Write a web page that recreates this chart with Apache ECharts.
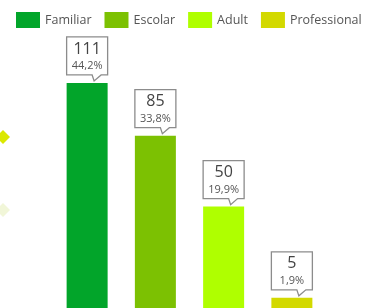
<!DOCTYPE html>
<html>
<head>
<meta charset="utf-8">
<script src="https://cdn.jsdelivr.net/npm/echarts@6/dist/echarts.min.js"></script>
<style>
  html, body { margin: 0; padding: 0; background: #fff; }
  #main { width: 367px; height: 308px; }
</style>
</head>
<body>
<div id="main"></div>
<script>
// categories and values
var categories = ['Familiar', 'Escolar', 'Adult', 'Professional'];
var counts = [111, 85, 50, 5];
var pctLabels = ['44,2%', '33,8%', '19,9%', '1,9%'];
var colors = ['#02a52a', '#7cc102', '#afff00', '#d3d900'];

var myChart = echarts.init(document.getElementById('main'));

// one series per category so the legend shows each colour
var series = [];
for (var i = 0; i < categories.length; i++) {
	var d = [];
	for (var j = 0; j < categories.length; j++) {
		d.push(j == i ? counts[i] : '-');
	}
	series.push({
		name: categories[i],
		type: 'bar',
		stack: 'total',
		barWidth: 41,
		itemStyle: { color: colors[i] },
		data: d
	});
}

// callout boxes above the bars
var calloutData = [];
for (var i = 0; i < counts.length; i++) {
	calloutData.push([i, counts[i]]);
}
series.push({
	type: 'custom',
	name: 'callout',
	clip: false,
	z: 10,
	data: calloutData,
	renderItem: function (params, api) {
		var p = api.coord([api.value(0), api.value(1)]);
		var cx = p[0], top = p[1];
		var bw = 41, bh = 38;
		var bx = cx - bw / 2;
		var bb = top - 8;
		var bt = bb - bh;
		return {
			type: 'group',
			children: [
				{
					type: 'polygon',
					shape: {
						points: [[bx, bt], [bx + bw, bt], [bx + bw, bb], [cx + 14, bb],
							[cx + 7, bb + 6], [cx + 5, bb], [bx, bb]]
					},
					style: { fill: '#fff', stroke: '#8c8c8c', lineWidth: 1.3 }
				},
				{
					type: 'text',
					style: {
						x: cx, y: bt + 12,
						text: String(api.value(1)),
						align: 'center', verticalAlign: 'middle',
						font: '16px "Open Sans"', fill: '#444'
					}
				},
				{
					type: 'text',
					style: {
						x: cx, y: bt + 29,
						text: pctLabels[params.dataIndex],
						align: 'center', verticalAlign: 'middle',
						font: '11px "Open Sans"', fill: '#555'
					}
				}
			]
		};
	}
});

var option = {
	animation: false,
	legend: {
		data: categories,
		left: 16,
		top: 12,
		width: 360,
		padding: 0,
		icon: 'rect',
		itemWidth: 24,
		itemHeight: 16,
		itemGap: 13,
		textStyle: { fontFamily: 'Open Sans', fontSize: 12.5, color: '#555' }
	},
	grid: { left: 53, right: 41, top: 14, bottom: 0 },
	xAxis: {
		type: 'category',
		data: categories,
		show: false
	},
	yAxis: {
		type: 'value',
		min: 0,
		max: 145,
		show: false
	},
	graphic: [
		{ type: 'polygon', shape: { points: [[-4, 137], [3, 130], [10, 137], [3, 144]] }, style: { fill: '#dbe800' } },
		{ type: 'polygon', shape: { points: [[-4, 210], [3, 203], [10, 210], [3, 217]] }, style: { fill: '#f1f6d8' } }
	],
	series: series
};

myChart.setOption(option);
</script>
</body>
</html>
